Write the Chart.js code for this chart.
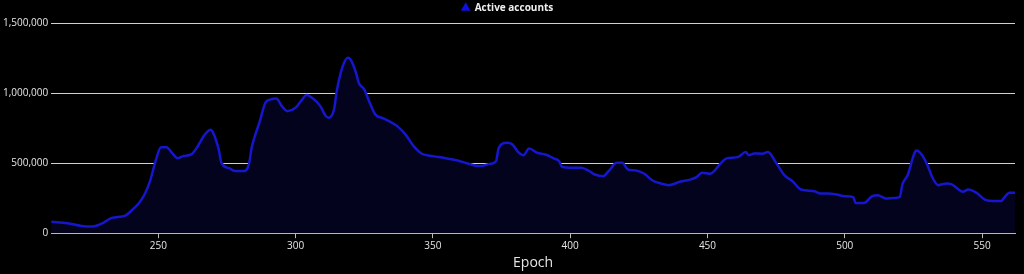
<!DOCTYPE html>
<html>
<head>
<meta charset="utf-8">
<script src="https://cdn.jsdelivr.net/npm/chart.js@4.4.0/dist/chart.umd.min.js"></script>
<style>
    html, body { margin: 0; padding: 0; background: #000; }
    #wrap { width: 1024px; height: 274px; }
</style>
</head>
<body>
<div id="wrap"><canvas id="chartAccounts"></canvas></div>
<script>
// Epochs and active account counts
const epochs = [
    211, 217, 222, 226, 230, 233, 238, 240, 243, 245, 247, 249, 251, 253, 255, 257, 259, 262, 264, 267,
    269, 270, 272, 273, 276, 278, 281, 283, 284, 287, 289, 291, 293, 295, 297, 300, 302, 304, 306, 309,
    311, 312, 314, 315, 317, 319, 320, 322, 323, 325, 327, 329, 332, 334, 337, 340, 343, 346, 350, 354,
    359, 363, 367, 371, 373, 374, 377, 379, 381, 383, 385, 388, 391, 394, 396, 397, 400, 404, 407, 409,
    412, 414, 417, 419, 421, 424, 427, 430, 433, 436, 440, 444, 446, 448, 451, 455, 457, 461, 464, 465,
    467, 470, 472, 475, 478, 481, 484, 489, 491, 494, 497, 500, 503, 504, 507, 510, 512, 515, 518, 520,
    521, 523, 525, 526, 528, 530, 532, 534, 537, 539, 541, 543, 545, 548, 551, 554, 557, 558, 560, 562
];
const activeAccounts = [
    81000, 71000, 52000, 48000, 74000, 109000, 126000, 157000, 216000, 276000, 371000, 514000, 614000, 614000, 574000, 534000, 550000, 562000, 609000, 705000,
    738000, 716000, 598000, 502000, 462000, 443000, 443000, 491000, 609000, 800000, 931000, 955000, 962000, 907000, 871000, 895000, 943000, 986000, 966000, 907000,
    836000, 824000, 883000, 1014000, 1181000, 1252000, 1240000, 1145000, 1074000, 1026000, 931000, 848000, 819000, 800000, 764000, 705000, 621000, 567000, 550000, 538000,
    519000, 495000, 479000, 495000, 514000, 609000, 645000, 633000, 581000, 557000, 605000, 574000, 562000, 534000, 514000, 474000, 467000, 467000, 443000, 419000,
    407000, 443000, 502000, 502000, 455000, 448000, 424000, 376000, 355000, 343000, 367000, 384000, 400000, 431000, 424000, 502000, 534000, 543000, 579000, 557000,
    569000, 567000, 579000, 502000, 414000, 371000, 312000, 300000, 283000, 283000, 276000, 264000, 259000, 216000, 216000, 264000, 271000, 248000, 252000, 257000,
    348000, 419000, 550000, 590000, 562000, 491000, 395000, 343000, 355000, 348000, 319000, 295000, 312000, 288000, 240000, 229000, 229000, 252000, 288000, 288000
];
const xTicks = [250, 300, 350, 400, 450, 500, 550];
const yTicks = [0, 500000, 1000000, 1500000];

Chart.defaults.font.family = '"Open Sans", "DejaVu Sans", sans-serif';
Chart.defaults.color = '#e6e6e6';

const points = epochs.map((e, i) => ({ x: e, y: activeAccounts[i] }));

new Chart(document.getElementById('chartAccounts'), {
    type: 'line',
    data: {
        datasets: [{
            label: 'Active accounts',
            data: points,
            borderColor: '#1616cc',
            backgroundColor: '#03031e',
            borderWidth: 2.5,
            fill: 'origin',
            pointRadius: 0,
            pointStyle: 'triangle',
            cubicInterpolationMode: 'monotone'
        }]
    },
    options: {
        responsive: true,
        maintainAspectRatio: false,
        animation: false,
        layout: { padding: { left: 0, right: 9, top: 0, bottom: 3 } },
        plugins: {
            legend: {
                position: 'top',
                labels: {
                    usePointStyle: true,
                    boxWidth: 8,
                    boxHeight: 8,
                    padding: 3,
                    color: '#f0f0f0',
                    font: { size: 10, weight: 'bold' },
                    generateLabels: chart => [{
                        text: 'Active accounts',
                        fillStyle: '#1010dd',
                        strokeStyle: '#1010dd',
                        pointStyle: 'triangle',
                        lineWidth: 0,
                        fontColor: '#f0f0f0',
                        datasetIndex: 0
                    }]
                }
            },
            tooltip: { enabled: false }
        },
        scales: {
            x: {
                type: 'linear',
                min: epochs[0],
                max: epochs[epochs.length - 1],
                grid: { drawOnChartArea: false, color: '#bbbbbb', tickLength: 5 },
                border: { color: '#bbbbbb' },
                afterBuildTicks: axis => {
                    axis.ticks = xTicks.map(v => ({ value: v }));
                },
                ticks: { color: '#e6e6e6', font: { size: 10 }, padding: 2 },
                title: { display: true, text: 'Epoch', color: '#e6e6e6', font: { size: 14 }, padding: { top: 0, bottom: 0 } }
            },
            y: {
                min: 0,
                max: 1500000,
                grid: { color: '#d0d0d0', drawTicks: false },
                border: { display: false },
                afterBuildTicks: axis => {
                    axis.ticks = yTicks.map(v => ({ value: v }));
                },
                ticks: {
                    color: '#e6e6e6',
                    font: { size: 10 },
                    padding: 3,
                    callback: v => v.toLocaleString('en-US')
                }
            }
        }
    }
});
</script>
</body>
</html>
